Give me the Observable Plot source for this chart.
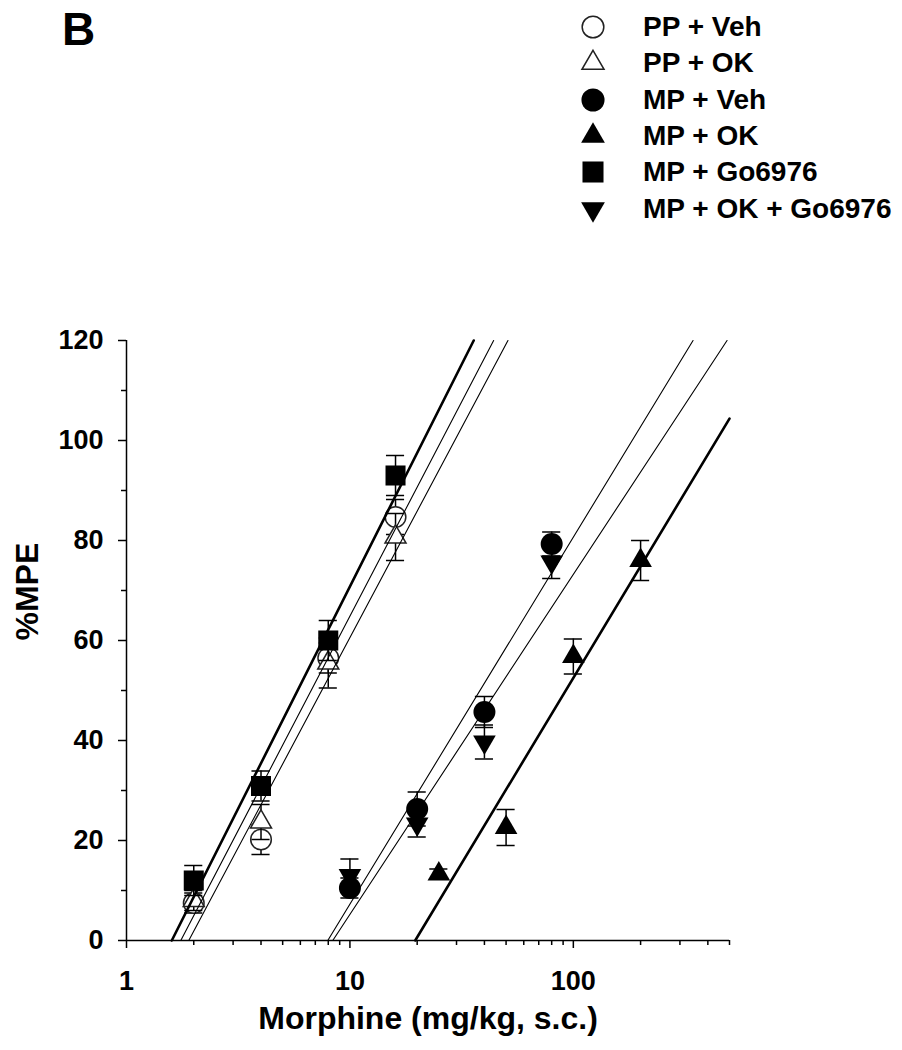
<!DOCTYPE html>
<html>
<head>
<meta charset="utf-8">
<script src="https://cdn.jsdelivr.net/npm/d3@7"></script>
<script src="https://cdn.jsdelivr.net/npm/@observablehq/plot@0.6"></script>
<style>
  body { margin: 0; background: white; }
  #wrap { position: relative; width: 902px; height: 1050px; overflow: hidden; font-family: 'Liberation Sans', Arial, Helvetica, sans-serif; font-weight: bold; color: black; }
  #panel { position: absolute; left: 62px; top: 6px; font-size: 46px; line-height: 46px; }
  .lg-text { position: absolute; left: 643px; font-size: 28px; line-height: 36px; white-space: nowrap; }
  .lg-sym { position: absolute; left: 577px; }
  #chart { position: absolute; left: 0; top: 300px; }
</style>
</head>
<body>
<div id="wrap">
  <div id="panel">B</div>
  <div id="legend"></div>
  <div id="chart"></div>
</div>
<script>
// ---------------- data ----------------
const groups = ["PP + Veh", "PP + OK", "MP + Veh", "MP + OK", "MP + Go6976", "MP + OK + Go6976"];

const doseLow  = [2, 4, 8, 16];
const doseMid  = [10, 20, 40, 80];
const doseHigh = [25, 50, 100, 200];

const ppVehMean  = [7.5, 20.2, 56.5, 84.7];
const ppVehSem   = [2, 3, 3, 3.5];
const ppOkMean   = [8, 23.7, 55.5, 80.7];
const ppOkSem    = [2, 3.5, 5, 4.7];
const mpVehMean  = [10.5, 26.3, 45.7, 79.3];
const mpVehSem   = [2, 3.4, 3.1, 2.4];
const mpOkMean   = [13.3, 22.6, 56.8, 76];
const mpOkSem    = [1, 3.6, 3.5, 4];
const mpGoMean   = [12, 30.9, 60, 93];
const mpGoSem    = [3, 3, 4, 4];
const mpOkGoMean = [13, 23.3, 39.7, 75.7];
const mpOkGoSem  = [3.3, 2.6, 3.4, 3.3];

// fitted regression lines (%MPE = slope * log10(dose / dose at 0 %MPE))
const fitDose0 = [1.75, 1.90, 7.96, 19.6, 1.595, 8.38];
const fitSlope = [85.7, 84.0, 73.4, 74.2, 88.8, 68.0];

const xMajorTicks = [1, 10, 100];
const xMinorTicks = [2, 3, 4, 5, 6, 7, 8, 9, 20, 30, 40, 50, 60, 70, 80, 90, 200, 300, 400, 500];
const yMajorTicks = [0, 20, 40, 60, 80, 100, 120];
const yMinorTicks = [10, 30, 50, 70, 90, 110];

const xLabel = "Morphine (mg/kg, s.c.)";
const yLabel = "%MPE";

// ---------------- styling ----------------
const triangleDown = {
  draw(context, size) {
    const y = -Math.sqrt(size / (Math.sqrt(3) * 3));
    const s3 = Math.sqrt(3);
    context.moveTo(0, -y * 2);
    context.lineTo(-s3 * y, y);
    context.lineTo(s3 * y, y);
    context.closePath();
  }
};

const styles = [
  {symbol: "circle",   fill: "white", stroke: "#222", sw: 1.5, r: 10.3, lineW: 1.1},
  {symbol: "triangle", fill: "white", stroke: "#222", sw: 1.5, r: 7.8,  lineW: 1.1},
  {symbol: "circle",   fill: "black", stroke: "none", sw: 0,   r: 11,   lineW: 1.1},
  {symbol: "triangle", fill: "black", stroke: "none", sw: 0,   r: 8.4,  lineW: 2.6},
  {symbol: "square",   fill: "black", stroke: "none", sw: 0,   r: 11.3, lineW: 2.6},
  {symbol: triangleDown, fill: "black", stroke: "none", sw: 0, r: 8.4,  lineW: 1.1}
];

const seriesData = [
  [doseLow, ppVehMean, ppVehSem],
  [doseLow, ppOkMean, ppOkSem],
  [doseMid, mpVehMean, mpVehSem],
  [doseHigh, mpOkMean, mpOkSem],
  [doseLow, mpGoMean, mpGoSem],
  [doseMid, mpOkGoMean, mpOkGoSem]
];

const capF = Math.pow(10, 9 / 222); // half-width of error caps in log space
const xMax = 500, yMax = 120;

const marks = [];
seriesData.forEach(([dose, mean, sem], i) => {
  const st = styles[i];
  const rows = dose.map((d, j) => ({dose: d, mean: mean[j], lo: mean[j] - sem[j], hi: mean[j] + sem[j]}));
  marks.push(Plot.ruleX(rows, {x: "dose", y1: "lo", y2: "hi", stroke: "black", strokeWidth: 1.5}));
  marks.push(Plot.ruleY(rows, {y: "hi", x1: d => d.dose / capF, x2: d => d.dose * capF, stroke: "black", strokeWidth: 1.5}));
  marks.push(Plot.ruleY(rows, {y: "lo", x1: d => d.dose / capF, x2: d => d.dose * capF, stroke: "black", strokeWidth: 1.5}));
  marks.push(Plot.dot(rows, {x: "dose", y: "mean", symbol: st.symbol, r: st.r, fill: st.fill, stroke: st.stroke, strokeWidth: st.sw}));
});

// regression lines
groups.forEach((g, i) => {
  const x0 = fitDose0[i], s = fitSlope[i];
  let xEnd = x0 * Math.pow(10, yMax / s), yEnd = yMax;
  if (xEnd > xMax) { xEnd = xMax; yEnd = s * Math.log10(xMax / x0); }
  const pts = [{x: x0, y: 0}, {x: xEnd, y: yEnd}];
  marks.push(Plot.line(pts, {x: "x", y: "y", stroke: "black", strokeWidth: styles[i].lineW}));
});

const chart = Plot.plot({
  width: 902,
  height: 750,
  marginTop: 40,
  marginBottom: 110,
  marginLeft: 126,
  marginRight: 173,
  x: {type: "log", domain: [1, xMax]},
  y: {domain: [0, yMax]},
  style: {fontFamily: "'Liberation Sans', Arial, Helvetica, sans-serif", fontSize: "27px", fontWeight: "bold", color: "black", background: "white", overflow: "visible"},
  marks: [
    Plot.axisX({ticks: xMajorTicks, tickSize: 8, tickPadding: 22, tickFormat: d => String(d), label: null, strokeWidth: 1.5}),
    Plot.axisX({ticks: xMinorTicks, tickSize: 5, tickFormat: () => "", label: null, strokeWidth: 1.5}),
    Plot.axisY({ticks: yMajorTicks, tickSize: 8, tickPadding: 15, tickFormat: d => String(d), label: null, strokeWidth: 1.5}),
    Plot.axisY({ticks: yMinorTicks, tickSize: 5, tickFormat: () => "", label: null, strokeWidth: 1.5}),
    Plot.ruleY([0], {stroke: "black", strokeWidth: 1.5}),
    Plot.ruleX([1], {stroke: "black", strokeWidth: 1.5}),
    ...marks,
    Plot.text([xLabel], {text: d => d, frameAnchor: "bottom", dy: 88, fontSize: 32, fontWeight: "bold"}),
    Plot.text([yLabel], {text: d => d, frameAnchor: "left", dx: -99, rotate: -90, fontSize: 32, fontWeight: "bold"})
  ]
});
document.getElementById("chart").appendChild(chart);

// ---------------- legend ----------------
const legend = document.getElementById("legend");
const ns = "http://www.w3.org/2000/svg";
groups.forEach((g, i) => {
  const cy = 27 + 36.3 * i;
  const st = styles[i];
  const svg = document.createElementNS(ns, "svg");
  svg.setAttribute("width", 32); svg.setAttribute("height", 32);
  svg.setAttribute("class", "lg-sym");
  svg.style.top = (cy - 16) + "px";
  const p = document.createElementNS(ns, "path");
  const type = st.symbol === "circle" ? d3.symbolCircle : st.symbol === "triangle" ? d3.symbolTriangle : st.symbol === "square" ? d3.symbolSquare : st.symbol;
  const rr = st.r * 1.05;
  p.setAttribute("d", d3.symbol(type, Math.PI * rr * rr)());
  p.setAttribute("transform", "translate(16,16)");
  p.setAttribute("fill", st.fill);
  p.setAttribute("stroke", st.stroke);
  p.setAttribute("stroke-width", st.sw);
  svg.appendChild(p);
  legend.appendChild(svg);
  const t = document.createElement("div");
  t.className = "lg-text";
  t.style.top = (cy - 18) + "px";
  t.textContent = g;
  legend.appendChild(t);
});
</script>
</body>
</html>
